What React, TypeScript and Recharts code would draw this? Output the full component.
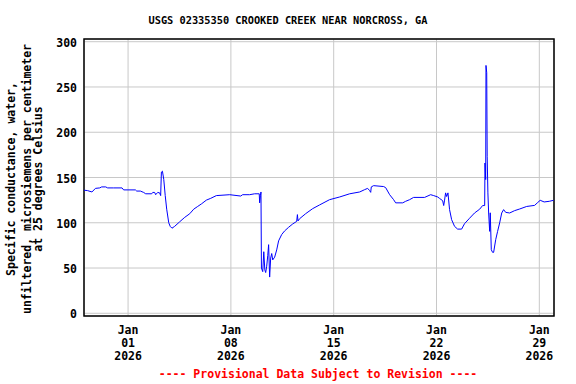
import React from "react";
import { LineChart, Line, XAxis, YAxis, CartesianGrid, ReferenceArea } from "recharts";

// x = days since 2025-12-29 00:00
const dayOffsets = [
  0.0, 0.25, 0.54, 0.78, 1.07, 1.2, 1.48, 1.61, 2.02, 2.59, 2.7, 3.5, 3.59, 3.84, 4.06, 4.2, 4.61, 4.68, 4.81, 4.88,
  5.02, 5.15, 5.22, 5.27, 5.34, 5.43, 5.53, 5.63, 5.77, 5.87, 5.99, 6.17, 6.51, 6.86, 7.2, 7.47, 7.74, 8.01, 8.33, 8.63,
  9.01, 9.92, 10.67, 10.8, 11.28, 11.62, 11.93, 11.96, 12.01, 12.05, 12.08, 12.17, 12.24, 12.31, 12.37, 12.44, 12.51, 12.57, 12.64, 12.71,
  12.78, 12.85, 12.98, 13.12, 13.25, 13.46, 13.66, 13.93, 14.21, 14.48, 14.53, 14.57, 14.68, 15.09, 15.57, 16.04, 16.72, 17.41, 18.09, 18.77,
  19.11, 19.31, 19.45, 19.52, 19.56, 19.72, 20.4, 20.54, 20.81, 21.08, 21.22, 21.7, 21.9, 22.17, 22.44, 23.19, 23.6, 23.81, 24.08, 24.2,
  24.42, 24.49, 24.55, 24.62, 24.69, 24.78, 24.89, 25.03, 25.23, 25.44, 25.71, 25.91, 26.25, 26.59, 26.94, 27.14, 27.28, 27.3, 27.35, 27.37,
  27.42, 27.45, 27.5, 27.55, 27.62, 27.66, 27.73, 27.82, 27.89, 28.03, 28.16, 28.3, 28.44, 28.57, 28.71, 28.98, 29.32, 29.66, 30.14, 30.68,
  30.86, 31.06, 31.33, 31.68, 31.97,
];

const conductance = [
  136, 135.5, 134, 138, 138.5, 139.6, 139.6, 138.5, 138.5, 138.5, 136.3, 136.3, 135, 135, 133.5, 132, 132, 133.5, 133.5, 131,
  133.5, 133, 130, 156, 157, 148, 130, 115, 100, 96, 94, 96, 101, 106, 110, 115, 118, 121, 125, 127,
  130, 131, 129.5, 131, 131, 132, 132, 122, 130, 134, 50, 46, 68, 48, 45, 52, 63.6, 75.8, 40, 61,
  66, 59, 62, 70, 80, 87, 91, 95, 98.7, 101.5, 109, 102, 104.5, 110, 115.6, 119.7, 125.5, 128.5, 132, 134,
  136.6, 138, 135.5, 133.6, 139.6, 141, 140, 138.8, 131, 125.5, 122, 122, 123.7, 125.5, 128, 128, 131, 130, 128.5, 127,
  124.4, 119, 125, 133, 129, 133, 114.5, 103.4, 96, 93, 93, 99, 105, 110.8, 115, 119, 119, 166, 147.7, 273.8,
  265.7, 173.5, 133, 110.8, 90.5, 111, 70.2, 67.3, 67.3, 81.3, 90.5, 99.8, 110.8, 114.5, 111.5, 110.8, 113.4, 115.2, 118, 119.2,
  121.9, 124.8, 123, 123.7, 124.8,
];

const xTickDays = [3, 10, 17, 24, 31];
const xTickMonth = ["Jan", "Jan", "Jan", "Jan", "Jan"];
const xTickDate = ["01", "08", "15", "22", "29"];
const xTickYear = ["2026", "2026", "2026", "2026", "2026"];
const yTicks = [0, 50, 100, 150, 200, 250, 300];

const title = "USGS 02335350 CROOKED CREEK NEAR NORCROSS, GA";
const yLabelLines = [
  "Specific conductance, water,",
  "unfiltered, microsiemens per centimeter",
  "at 25 degrees Celsius",
];
const footer = "---- Provisional Data Subject to Revision ----";

const data = dayOffsets.map((d, i) => ({ day: d, value: conductance[i] }));

const FONT = "'DejaVu Sans Mono', 'Liberation Mono', monospace";

const XTick = (props: any) => {
  const { x, payload } = props;
  const i = xTickDays.indexOf(payload.value);
  if (i < 0) return null;
  const base = 316;
  return (
    <g>
      <text x={x} y={base + 18} textAnchor="middle" fontFamily={FONT} fontWeight="bold" fontSize={11.5} fill="#000">
        {xTickMonth[i]}
      </text>
      <text x={x} y={base + 31} textAnchor="middle" fontFamily={FONT} fontWeight="bold" fontSize={11.5} fill="#000">
        {xTickDate[i]}
      </text>
      <text x={x} y={base + 44} textAnchor="middle" fontFamily={FONT} fontWeight="bold" fontSize={11.5} fill="#000">
        {xTickYear[i]}
      </text>
    </g>
  );
};

const YTick = (props: any) => {
  const { y, payload } = props;
  return (
    <text x={77} y={y + 5} textAnchor="end" fontFamily={FONT} fontWeight="bold" fontSize={11.5} fill="#000">
      {payload.value}
    </text>
  );
};

export default function App() {
  const yLabelBaselines = [15, 30.5, 41.7];
  return (
    <div style={{ position: "absolute", left: 0, top: 0, width: 576, height: 384, background: "#fff" }}>
      <LineChart width={576} height={384} data={data} margin={{ top: 39, right: 22, bottom: 28, left: 24 }}>
        <CartesianGrid stroke="#c8c8c8" strokeWidth={1} />
        <XAxis
          dataKey="day"
          type="number"
          domain={[0, 32]}
          ticks={xTickDays}
          tick={<XTick />}
          tickLine={false}
          axisLine={false}
          height={40}
          allowDataOverflow
        />
        <YAxis
          type="number"
          domain={[-3, 303]}
          ticks={yTicks}
          tick={<YTick />}
          tickLine={false}
          axisLine={false}
          width={60}
          allowDataOverflow
        />
        <Line
          type="linear"
          dataKey="value"
          stroke="#0000ff"
          strokeWidth={1}
          dot={false}
          isAnimationActive={false}
        />
        <ReferenceArea x1={0} x2={32} y1={-3} y2={303} fill="none" stroke="#000" strokeWidth={1.5} ifOverflow="visible" />
      </LineChart>
      <svg width={576} height={384} style={{ position: "absolute", left: 0, top: 0, pointerEvents: "none" }}>
        <text x={288} y={24} textAnchor="middle" fontFamily={FONT} fontWeight="bold" fontSize={10.3} fill="#000">
          {title}
        </text>
        {yLabelLines.map((t, i) => (
          <text
            key={i}
            x={yLabelBaselines[i]}
            y={179}
            transform={`rotate(-90 ${yLabelBaselines[i]} 179)`}
            textAnchor="middle"
            fontFamily={FONT}
            fontWeight="bold"
            fontSize={11.5}
            fill="#000"
          >
            {t}
          </text>
        ))}
        <text x={318} y={378} textAnchor="middle" fontFamily={FONT} fontWeight="bold" fontSize={11.5} fill="#ff0000">
          {footer}
        </text>
      </svg>
    </div>
  );
}
